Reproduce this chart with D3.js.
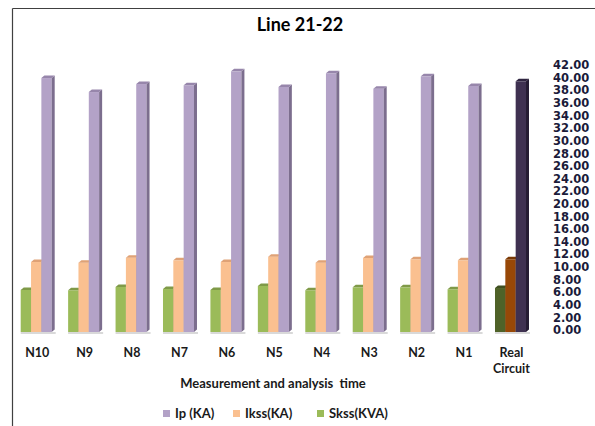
<!DOCTYPE html>
<html><head><meta charset="utf-8">
<script src="https://cdn.jsdelivr.net/npm/d3@7/dist/d3.min.js"></script>
<style>html,body{margin:0;padding:0;background:#fff;}svg{display:block;}</style>
</head><body>
<svg id="chart" width="595" height="426"></svg>
<script>
const categories = ["N10","N9","N8","N7","N6","N5","N4","N3","N2","N1","Real Circuit"];
const ipValues   = [40.25,38.03,39.30,39.10,41.31,38.83,41.00,38.56,40.52,38.99,39.73];
const ikssValues = [11.09,10.98,11.77,11.36,11.09,11.93,10.98,11.73,11.52,11.36,11.52];
const skssValues = [6.66,6.61,7.13,6.81,6.66,7.29,6.61,7.08,7.08,6.77,6.97];
const seriesNames = ["Skss(KVA)","Ikss(KA)","Ip (KA)"];
const legendOrder = ["Ip (KA)","Ikss(KA)","Skss(KVA)"];
const yTickValues = [0,2,4,6,8,10,12,14,16,18,20,22,24,26,28,30,32,34,36,38,40,42];

const svg = d3.select("#chart");
const seriesData = {"Skss(KVA)": skssValues, "Ikss(KA)": ikssValues, "Ip (KA)": ipValues};

const normalColors = {
  "Skss(KVA)": {front:"#9bbb59", top:"#7f9a48", side:"#6f8a3a"},
  "Ikss(KA)":  {front:"#fac090", top:"#dfa276", side:"#c9906a"},
  "Ip (KA)":   {front:"#b3a2c7", top:"#9786ab", side:"#7c6e8e"}
};
const realColors = {
  "Skss(KVA)": {front:"#4f6228", top:"#3f4f20", side:"#36441b"},
  "Ikss(KA)":  {front:"#984807", top:"#7a3905", side:"#6a3104"},
  "Ip (KA)":   {front:"#3f3151", top:"#2f2440", side:"#251c33"}
};

// frame
svg.append("line").attr("x1",12.5).attr("y1",8.5).attr("x2",595).attr("y2",8.5).attr("stroke","#404040").attr("stroke-width",1.2);
svg.append("line").attr("x1",12.5).attr("y1",8.5).attr("x2",12.5).attr("y2",426).attr("stroke","#404040").attr("stroke-width",1.2);

// title
svg.append("text").attr("x",300).attr("y",31).attr("text-anchor","middle")
  .attr("font-family","Lato, 'Open Sans', sans-serif").attr("font-weight","bold").attr("font-size",18)
  .attr("fill","#000").text("Line 21-22");

const x0 = d3.scaleBand().domain(categories).range([20.7, 526]).paddingInner(0.3464).paddingOuter(0);
const x1 = d3.scaleBand().domain(seriesNames).range([0, x0.bandwidth()]).padding(0);
const y = d3.scaleLinear().domain([0,42]).range([332, 67]);
const dx = 3, dy = 2.5;

// floor shadow
categories.forEach(c=>{
  svg.append("rect").attr("x",x0(c)).attr("y",y(0)).attr("width",x0.bandwidth()+dx+1).attr("height",2)
    .attr("fill","#d9d9d9");
});

categories.forEach((c,i)=>{
  const g = svg.append("g");
  const cols = c === "Real Circuit" ? realColors : normalColors;
  seriesNames.forEach(s=>{
    const v = seriesData[s][i];
    const bx = x0(c) + x1(s), w = x1.bandwidth();
    const yt = y(v), yb = y(0);
    const col = cols[s];
    g.append("rect").attr("x",bx).attr("y",yt).attr("width",w).attr("height",yb-yt).attr("fill",col.front);
    g.append("path").attr("d",`M${bx+w},${yt}L${bx+w+dx},${yt-dy}L${bx+w+dx},${yb-dy}L${bx+w},${yb}Z`).attr("fill",col.side);
    g.append("path").attr("d",`M${bx},${yt}L${bx+dx},${yt-dy}L${bx+w+dx},${yt-dy}L${bx+w},${yt}Z`).attr("fill",col.top);
  });
});

// right value axis (back wall offset)
const axis = d3.axisRight(y).tickValues(yTickValues).tickFormat(d3.format(".2f")).tickSize(0).tickPadding(0);
const ag = svg.append("g").attr("transform","translate(553,-2)").call(axis);
ag.select(".domain").remove();
ag.selectAll("text").attr("font-family","'DejaVu Sans', Verdana, sans-serif").attr("font-weight","bold")
  .attr("font-size",11.5).attr("fill","#1b1b3a").attr("text-anchor","start");

// category labels
const labelFont = "Lato, 'Open Sans', sans-serif";
categories.forEach(c=>{
  const cx = x0(c) + x0.bandwidth()/2 + 1;
  const words = c.split(" ");
  words.forEach((wd,k)=>{
    svg.append("text").attr("x",cx).attr("y",357 + k*16).attr("text-anchor","middle")
      .attr("font-family",labelFont).attr("font-weight","bold").attr("font-size",12.5).attr("fill","#1a1a1a").text(wd);
  });
});

// axis title
svg.append("text").attr("x",273).attr("y",388).attr("text-anchor","middle").attr("xml:space","preserve")
  .attr("font-family",labelFont).attr("font-weight","bold").attr("font-size",13).attr("fill","#1a1a1a")
  .style("white-space","pre").text("Measurement and analysis  time");

// legend
const legendX = [163, 233, 317];
legendOrder.forEach((s,k)=>{
  svg.append("rect").attr("x",legendX[k]).attr("y",410).attr("width",7).attr("height",7).attr("fill",normalColors[s].front);
  svg.append("text").attr("x",legendX[k]+12).attr("y",418).attr("font-family",labelFont).attr("font-weight","bold")
    .attr("font-size",13).attr("fill","#1a1a1a").text(s);
});
</script>
</body></html>
